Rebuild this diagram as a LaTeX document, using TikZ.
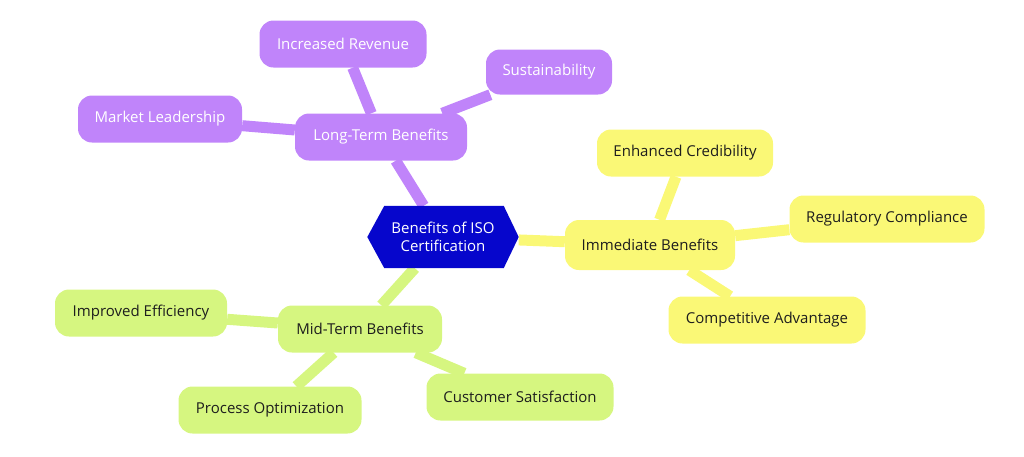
\documentclass[tikz,border=0pt]{standalone}
\usepackage{fontspec}
\setmainfont{Open Sans}
\usetikzlibrary{backgrounds}
\definecolor{purp}{RGB}{192,132,250}
\definecolor{yel}{RGB}{250,248,118}
\definecolor{grn}{RGB}{214,246,128}
\definecolor{hexblue}{RGB}{6,6,204}
\definecolor{txt}{RGB}{30,30,30}
\tikzset{
  box/.style={rounded corners=14pt, minimum height=47pt, inner sep=0pt, font=\fontsize{15}{17}\selectfont},
  lt/.style={box, fill=purp, text=white},
  im/.style={box, fill=yel, text=txt},
  md/.style={box, fill=grn, text=txt},
  link/.style={line width=11pt},
  hextext/.style={minimum width=151pt, minimum height=62pt, inner sep=0pt, align=center, text=white,
    font=\fontsize{15}{18}\selectfont},
}
\begin{document}
\begin{tikzpicture}[x=1pt,y=-1pt]
\useasboundingbox (0,0) rectangle (1024,456);
% centre
\node[hextext] (c) at (443,237) {\phantom{Benefits of ISO}\\\phantom{Certification}};
\fill[hexblue] (c.west) -- ([xshift=17pt]c.north west) -- ([xshift=-15pt]c.north east) -- (c.east)
  -- ([xshift=-15pt]c.south east) -- ([xshift=17pt]c.south west) -- cycle;
\node[hextext] (ct) at (c) {Benefits of ISO\\Certification};
% long-term
\node[lt, minimum width=172pt] (lt) at (381,137) {Long-Term Benefits};
\node[lt, minimum width=167pt] (ir) at (343,44) {Increased Revenue};
\node[lt, minimum width=126pt, minimum height=45pt] (su) at (549,72) {Sustainability};
\node[lt, minimum width=164pt] (ml) at (160,119) {Market Leadership};
% immediate
\node[im, minimum width=170pt, minimum height=50pt] (ib) at (650,245) {Immediate Benefits};
\node[im, minimum width=176pt] (ec) at (685,153) {Enhanced Credibility};
\node[im, minimum width=195pt] (rc) at (887,219) {Regulatory Compliance};
\node[im, minimum width=197pt] (ca) at (767,320) {Competitive Advantage};
% mid-term
\node[md, minimum width=164pt] (mt) at (360,329) {Mid-Term Benefits};
\node[md, minimum width=172pt] (ie) at (141,313) {Improved Efficiency};
\node[md, minimum width=183pt] (po) at (270,410) {Process Optimization};
\node[md, minimum width=187pt] (cs) at (520,397) {Customer Satisfaction};
\begin{scope}[on background layer]
\draw[link, purp] (c) -- (lt);
\draw[link, purp] (lt) -- (ir);
\draw[link, purp] (lt) -- (su);
\draw[link, purp] (lt) -- (ml);
\draw[link, yel] (c) -- (ib);
\draw[link, yel] (ib) -- (ec);
\draw[link, yel] (ib) -- (rc);
\draw[link, yel] (ib) -- (ca);
\draw[link, grn] (c) -- (mt);
\draw[link, grn] (mt) -- (ie);
\draw[link, grn] (mt) -- (po);
\draw[link, grn] (mt) -- (cs);
\end{scope}
\end{tikzpicture}
\end{document}
